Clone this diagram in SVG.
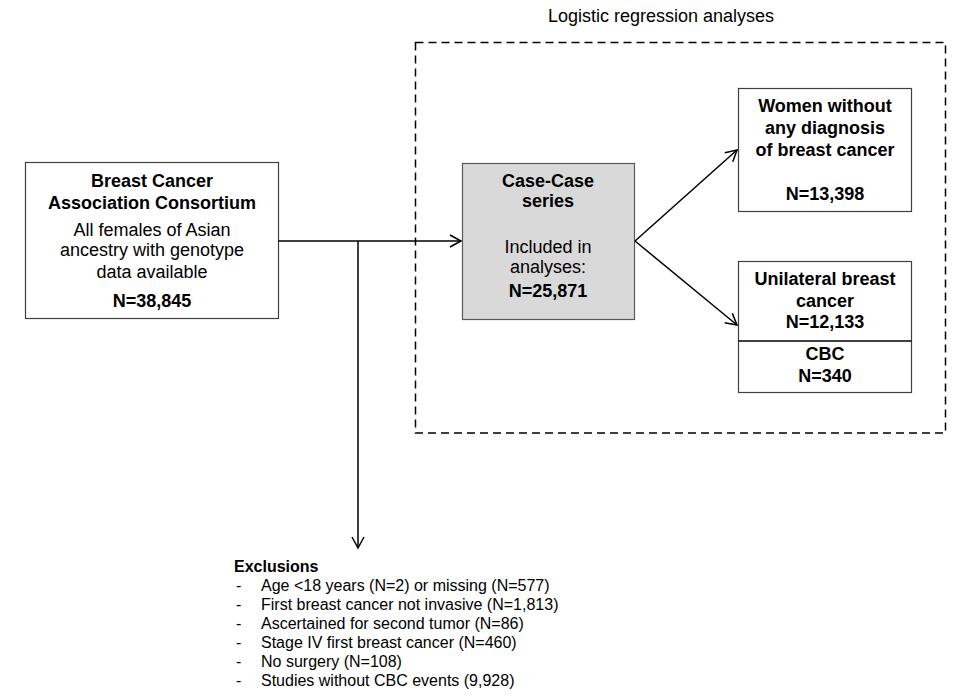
<svg xmlns="http://www.w3.org/2000/svg" width="957" height="698" viewBox="0 0 957 698">
<defs>
<marker id="arr" markerWidth="14" markerHeight="14" refX="12" refY="7" orient="auto" markerUnits="userSpaceOnUse">
<path d="M1,1 L12,7 L1,13" fill="none" stroke="#000" stroke-width="1.5"/>
</marker>
<style>
.box{fill:#fff;stroke:#404040;stroke-width:1.2}
.gray{fill:#d9d9d9;stroke:#595959;stroke-width:1.2}
.t{font-family:"Liberation Sans",Arial,sans-serif;font-size:18px;fill:#000;text-anchor:middle}
.b{font-weight:bold}
.s{font-family:"Liberation Sans",Arial,sans-serif;font-size:16px;fill:#000}
.ln{fill:none;stroke:#000;stroke-width:1.5}
</style>
</defs>
<rect width="957" height="698" fill="#fff"/>
<text class="t" x="661" y="22">Logistic regression analyses</text>
<rect x="415.5" y="42.5" width="530" height="390.5" fill="none" stroke="#000" stroke-width="1.5" stroke-dasharray="8,5"/>
<g id="bcac">
<rect class="box" x="25.5" y="162.5" width="253" height="156"/>
<text class="t b" x="152" y="187">Breast Cancer</text>
<text class="t b" x="152" y="209">Association  Consortium</text>
<text class="t" x="152" y="236">All females of Asian</text>
<text class="t" x="152" y="256">ancestry with genotype</text>
<text class="t" x="152" y="278">data available</text>
<text class="t b" x="152" y="307">N=38,845</text>
</g>
<g id="casecase">
<rect class="gray" x="462.5" y="163.5" width="172" height="156"/>
<text class="t b" x="548" y="187">Case-Case</text>
<text class="t b" x="548" y="207">series</text>
<text class="t" x="548" y="253">Included  in</text>
<text class="t" x="548" y="273">analyses:</text>
<text class="t b" x="548" y="297">N=25,871</text>
</g>
<g id="women">
<rect class="box" x="738.5" y="88.5" width="173" height="123"/>
<text class="t b" x="825" y="112">Women without</text>
<text class="t b" x="825" y="134">any diagnosis</text>
<text class="t b" x="825" y="156">of breast cancer</text>
<text class="t b" x="825" y="200">N=13,398</text>
</g>
<g id="unilateral">
<rect class="box" x="738.5" y="261.5" width="173" height="131"/>
<line x1="738.5" y1="341" x2="911.5" y2="341" stroke="#000" stroke-width="1.5"/>
<text class="t b" x="825" y="285">Unilateral breast</text>
<text class="t b" x="825" y="307">cancer</text>
<text class="t b" x="825" y="328">N=12,133</text>
<text class="t b" x="825" y="360">CBC</text>
<text class="t b" x="825" y="382">N=340</text>
</g>
<g id="exclusions">
<text class="s b" x="234" y="572">Exclusions</text>
<g class="s">
<text x="236" y="591">-</text><text x="261" y="591">Age &lt;18 years (N=2) or missing (N=577)</text>
<text x="236" y="610">-</text><text x="261" y="610">First breast cancer not invasive (N=1,813)</text>
<text x="236" y="629">-</text><text x="261" y="629">Ascertained  for second tumor (N=86)</text>
<text x="236" y="648">-</text><text x="261" y="648">Stage IV first breast cancer (N=460)</text>
<text x="236" y="667">-</text><text x="261" y="667">No surgery (N=108)</text>
<text x="236" y="686">-</text><text x="261" y="686">Studies without  CBC events (9,928)</text>
</g>
</g>
<g id="connectors">
<line class="ln" x1="278.5" y1="241" x2="461" y2="241" marker-end="url(#arr)"/>
<line class="ln" x1="358" y1="241" x2="358" y2="548" marker-end="url(#arr)"/>
<line class="ln" x1="635" y1="241" x2="737" y2="150" marker-end="url(#arr)"/>
<line class="ln" x1="635" y1="241" x2="737" y2="325" marker-end="url(#arr)"/>
</g>
</svg>
